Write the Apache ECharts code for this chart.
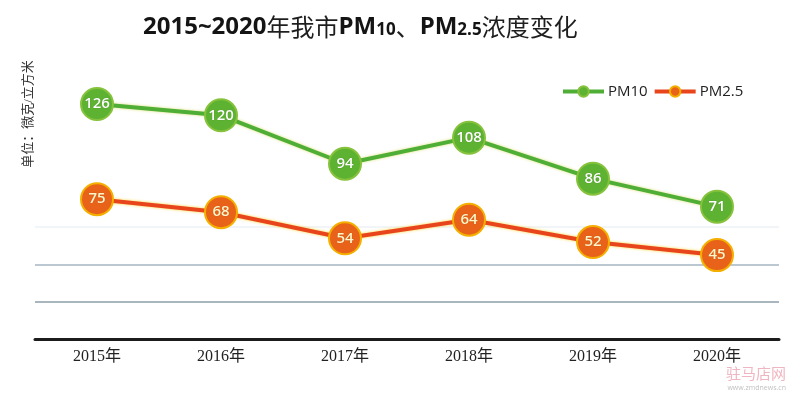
<!DOCTYPE html>
<html>
<head>
<meta charset="utf-8">
<script src="https://cdn.jsdelivr.net/npm/echarts@6/dist/echarts.min.js"></script>
<style>html,body{margin:0;padding:0;background:#fff}#c{width:800px;height:396px}</style>
</head>
<body>
<div id="c"></div>
<script>
const categories = ['2015年', '2016年', '2017年', '2018年', '2019年', '2020年'];
const pm10 = [126, 120, 94, 108, 86, 71];
const pm25 = [75, 68, 54, 64, 52, 45];
const yTicks = [0, 20, 40, 60, 80, 100, 120, 140];

const chart = echarts.init(document.getElementById('c'));
const serif = '"Liberation Serif", "DejaVu Serif", "Noto Sans CJK SC", serif';
const sans = '"Open Sans", "Noto Sans", sans-serif';
const cjk = '"Noto Sans CJK SC", sans-serif';

function lineSeries(name, data, lineColor, fill, border, labelColor, glow) {
  return {
    name: name,
    type: 'line',
    data: data,
    symbol: 'circle',
    symbolSize: 32,
    lineStyle: { color: lineColor, width: 4, shadowColor: glow, shadowBlur: 3 },
    itemStyle: { color: fill, borderColor: border, borderWidth: 2 },
    label: {
      show: true, position: 'inside', color: labelColor,
      fontFamily: sans, fontSize: 15, fontWeight: 600,
      textShadowColor: 'rgba(0,0,0,0.25)', textShadowBlur: 1
    },
    emphasis: { disabled: true },
    animation: false
  };
}

chart.setOption({
  animation: false,
  title: {
    left: 138, top: 2, padding: [5, 5, 5, 5],
    text: '{b|2015~2020}{c|年我市}{b|PM}{s|10}{c|、}{b|PM}{s|2.5}{c|浓度变化}',
    textStyle: {
      rich: {
        b: { fontFamily: sans, fontWeight: 'bold', fontSize: 24, color: '#141414', verticalAlign: 'bottom', lineHeight: 32 },
        s: { fontFamily: sans, fontWeight: 'bold', fontSize: 17, color: '#141414', verticalAlign: 'bottom', lineHeight: 29 },
        c: { fontFamily: cjk, fontWeight: 'normal', fontSize: 24, color: '#1e1e1e', verticalAlign: 'bottom', lineHeight: 32 }
      }
    }
  },
  legend: {
    left: 561, top: 84, padding: 0,
    itemWidth: 41, itemHeight: 13, itemGap: 5,
    lineStyle: { width: 4 },
    textStyle: { fontFamily: sans, fontSize: 15, color: '#222', padding: [0, 0, 0, -1] },
    data: ['PM10', 'PM2.5']
  },
  graphic: [
    {
      type: 'text', x: 29, y: 114, rotation: Math.PI / 2,
      style: { text: '单位：微克/立方米', fontFamily: serif, fontSize: 13, fill: '#333', align: 'center', verticalAlign: 'middle' }
    },
    {
      type: 'text', right: 14, top: 366,
      style: { text: '驻马店网', fontFamily: cjk, fontSize: 15, fill: 'rgba(225,120,140,0.55)' }
    },
    {
      type: 'text', right: 14, top: 384,
      style: { text: 'www.zmdnews.cn', fontFamily: sans, fontSize: 7, fill: 'rgba(150,150,150,0.6)' }
    }
  ],
  grid: { left: 35, right: 21, top: 78, bottom: 57 },
  xAxis: {
    type: 'category',
    data: categories,
    boundaryGap: true,
    axisLine: { show: true, lineStyle: { color: '#1c1c1c', width: 3 } },
    axisTick: { show: false },
    axisLabel: { color: '#222', fontFamily: serif, fontSize: 16, margin: 10 }
  },
  yAxis: {
    type: 'value',
    min: yTicks[0], max: yTicks[yTicks.length - 1], interval: 20,
    axisLine: { show: false },
    axisTick: { show: false },
    axisLabel: { show: false },
    splitLine: {
      show: true,
      lineStyle: {
        width: 1.5,
        color: ['rgba(0,0,0,0)', '#8e9ea8', '#a6b6c2', '#eef2f6', 'rgba(0,0,0,0)', 'rgba(0,0,0,0)', 'rgba(0,0,0,0)', 'rgba(0,0,0,0)']
      }
    }
  },
  series: [
    lineSeries('PM10', pm10, '#4fae35', '#5db232', '#86c23c', '#ffffff', 'rgba(200,210,60,0.7)'),
    lineSeries('PM2.5', pm25, '#e8451c', '#e9621a', '#f4b000', '#fff6c8', 'rgba(245,200,0,0.8)')
  ]
});
</script>
</body>
</html>
